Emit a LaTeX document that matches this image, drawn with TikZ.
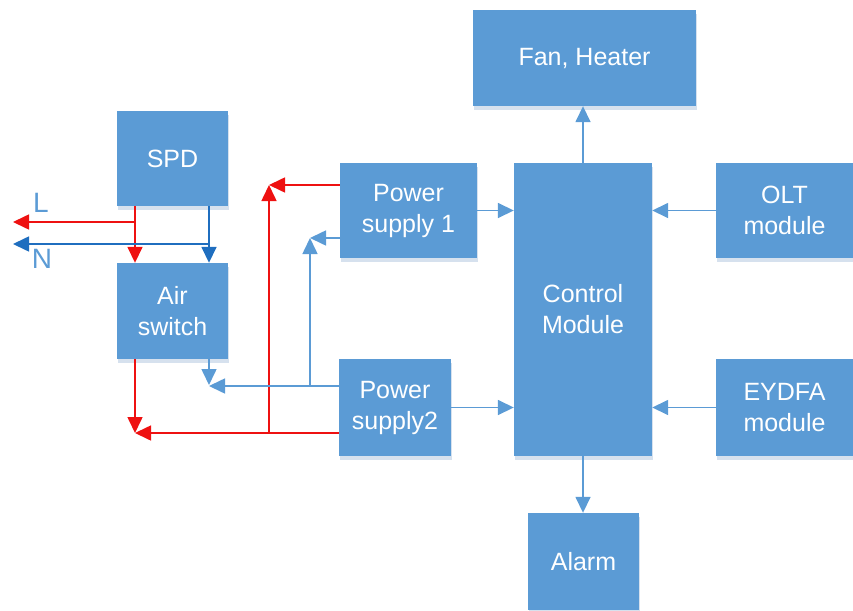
\documentclass[tikz,border=0pt]{standalone}
\usepackage{fontspec}
\setmainfont{Liberation Sans}
\usetikzlibrary{arrows.meta,shadows}
\definecolor{boxblue}{HTML}{5B9BD5}
\definecolor{boxshade}{HTML}{D6E1EE}
\definecolor{lineblue}{HTML}{5B9BD5}
\definecolor{nblue}{HTML}{1F6EBF}
\definecolor{lred}{HTML}{EE1111}

\begin{document}
\begin{tikzpicture}[x=1pt, y=-1pt,
  every node/.style={align=center},
  blk/.style={fill=boxblue, text=white, inner sep=0pt,
    font=\fontsize{25}{31}\selectfont,
    drop shadow={shadow xshift=1pt, shadow yshift=-4pt, fill=boxshade, opacity=1}},
  sig/.style={-{Triangle[length=16pt,width=15pt]}, draw=lineblue, line width=1.6pt},
  redln/.style={sig, draw=lred},
  nln/.style={sig, draw=nblue},
  lbl/.style={text=lineblue, font=\fontsize{28}{32}\selectfont}]
  \useasboundingbox (0,0) rectangle (853,610);

  % blocks
  \node[blk, minimum width=223pt, minimum height=96pt] (fan) at (584.5,58) {Fan, Heater};
  \node[blk, minimum width=111pt, minimum height=95pt] (spd) at (172.5,158.5) {SPD};
  \node[blk, minimum width=137pt, minimum height=95pt] (ps1) at (408.5,210.5) {Power\\supply 1};
  \node[blk, minimum width=138pt, minimum height=293pt] (ctrl) at (583,309.5) {Control\\Module};
  \node[blk, minimum width=137pt, minimum height=95pt] (olt) at (784.5,210.5) {OLT\\module};
  \node[blk, minimum width=111pt, minimum height=96pt] (air) at (172.5,311) {Air\\switch};
  \node[blk, minimum width=112pt, minimum height=97pt] (ps2) at (395,407.5) {Power\\supply2};
  \node[blk, minimum width=137pt, minimum height=97pt] (eydfa) at (784.5,407.5) {EYDFA\\module};
  \node[blk, minimum width=111pt, minimum height=97pt] (alarm) at (583.5,561.5) {Alarm};

  % L / N
  \node[lbl] (lL) at (41,203) {L};
  \node[lbl] (lN) at (42,259) {N};
  \coordinate (Lend) at (13,222);
  \coordinate (Nend) at (13,244);
  \coordinate (Ltap) at (135,222);
  \coordinate (Ntap) at (209,244);

  % junction points
  \coordinate (rA) at (135,433);
  \coordinate (rB) at (269,185);
  \coordinate (rJ) at (269,433);
  \coordinate (bA) at (209,385);
  \coordinate (bB) at (310,238);
  \coordinate (bJ) at (310,386);

  % control module links
  \draw[sig] (ctrl.north) -- (ctrl.north |- fan.south);
  \draw[sig] (ctrl.south) -- (ctrl.south |- alarm.north);
  \draw[sig] (ps1.east) -- (ps1.east -| ctrl.west);
  \draw[sig] (ps2.east) -- (ps2.east -| ctrl.west);
  \draw[sig] (olt.west) -- (olt.west -| ctrl.east);
  \draw[sig] (eydfa.west) -- (eydfa.west -| ctrl.east);

  % mains
  \draw[redln] (spd.south -| Ltap) -- (Ltap |- air.north);
  \draw[redln] (Ltap) -- (Lend);
  \draw[nln] (spd.south -| Ntap) -- (Ntap |- air.north);
  \draw[nln] (Ntap) -- (Nend);

  % supply feeds
  \draw[redln] (air.south -| rA) -- (rA);
  \draw[redln] (ps2.west |- rA) -- (rA);
  \draw[redln] (rJ) -- (rB);
  \draw[redln] (ps1.west |- rB) -- (rB);
  \draw[sig] (air.south -| bA) -- (bA);
  \draw[sig] (ps2.west |- bJ) -- (bJ -| bA);
  \draw[sig] (bJ) -- (bB);
  \draw[sig] (ps1.west |- bB) -- (bB);
\end{tikzpicture}
\end{document}
